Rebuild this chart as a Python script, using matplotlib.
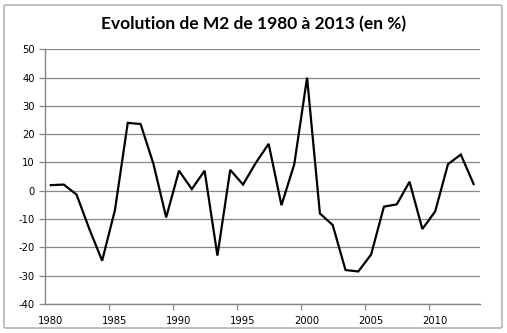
import matplotlib

matplotlib.use("Agg")

import matplotlib.pyplot as plt  # noqa: E402
from matplotlib.patches import FancyBboxPatch  # noqa: E402

years = list(range(1980, 2014))
m2_growth = [2.0, 2.2, -1.3, -13.5, -24.7, -6.8, 24.0, 23.6, 9.6, -9.4,
             7.1, 0.6, 7.1, -22.9, 7.4, 2.2, 9.9, 16.6, -5.1, 9.4,
             40.0, -8.0, -12.1, -28.0, -28.5, -22.5, -5.6, -4.8, 3.2, -13.5,
             -7.3, 9.4, 12.8, 2.4]
y_ticks = list(range(-40, 51, 10))
x_labels = [1980, 1985, 1990, 1995, 2000, 2005, 2010]

GRID = "#878787"
AXIS = "#868686"

fig = plt.figure(figsize=(5.07, 3.33), dpi=100)
fig.patch.set_facecolor("white")
frame = FancyBboxPatch((4 / 507, 5 / 333), 498 / 507, 323 / 333,
                       boxstyle="round,pad=0,rounding_size=0.004",
                       transform=fig.transFigure, facecolor="none",
                       edgecolor="#b4b4b4", linewidth=1.2)
fig.patches.append(frame)

ax = fig.add_axes([44.5 / 507, 1 - 304 / 333, (480 - 44.5) / 507, (304 - 49.3) / 333])
ax.plot(years, m2_growth, color="black", linewidth=1.6, solid_joinstyle="miter")

ax.set_ylim(-40, 50)
ax.set_yticks(y_ticks)
ax.set_yticklabels([str(t) for t in y_ticks], fontsize=7.2, color="black")
ax.set_xlim(years[0] - 0.5, years[-1] + 0.5)
ax.set_xticks([y - 0.5 for y in x_labels[1:]])
ax.set_xticklabels([])
ax.set_xticks(x_labels, minor=True)
ax.set_xticklabels([str(y) for y in x_labels], minor=True, fontsize=7.2, color="black")
ax.tick_params(axis="x", which="major", length=4, color=AXIS, width=0.9)
ax.tick_params(axis="x", which="minor", length=0, pad=9)
ax.tick_params(axis="y", length=4, color=AXIS, width=0.9, pad=3)

ax.grid(axis="y", color=GRID, linewidth=0.9)
ax.set_axisbelow(True)
for spine in ("top", "right"):
    ax.spines[spine].set_visible(False)
for spine in ("left", "bottom"):
    ax.spines[spine].set_color(AXIS)
    ax.spines[spine].set_linewidth(1.0)

fig.text(0.5, 1 - 24 / 333, "Evolution de M2 de 1980 à 2013 (en %)",
         ha="center", va="center", fontsize=12.5, fontweight="bold",
         family=["Lato", "DejaVu Sans"])

fig.savefig("out.png", dpi=100)
